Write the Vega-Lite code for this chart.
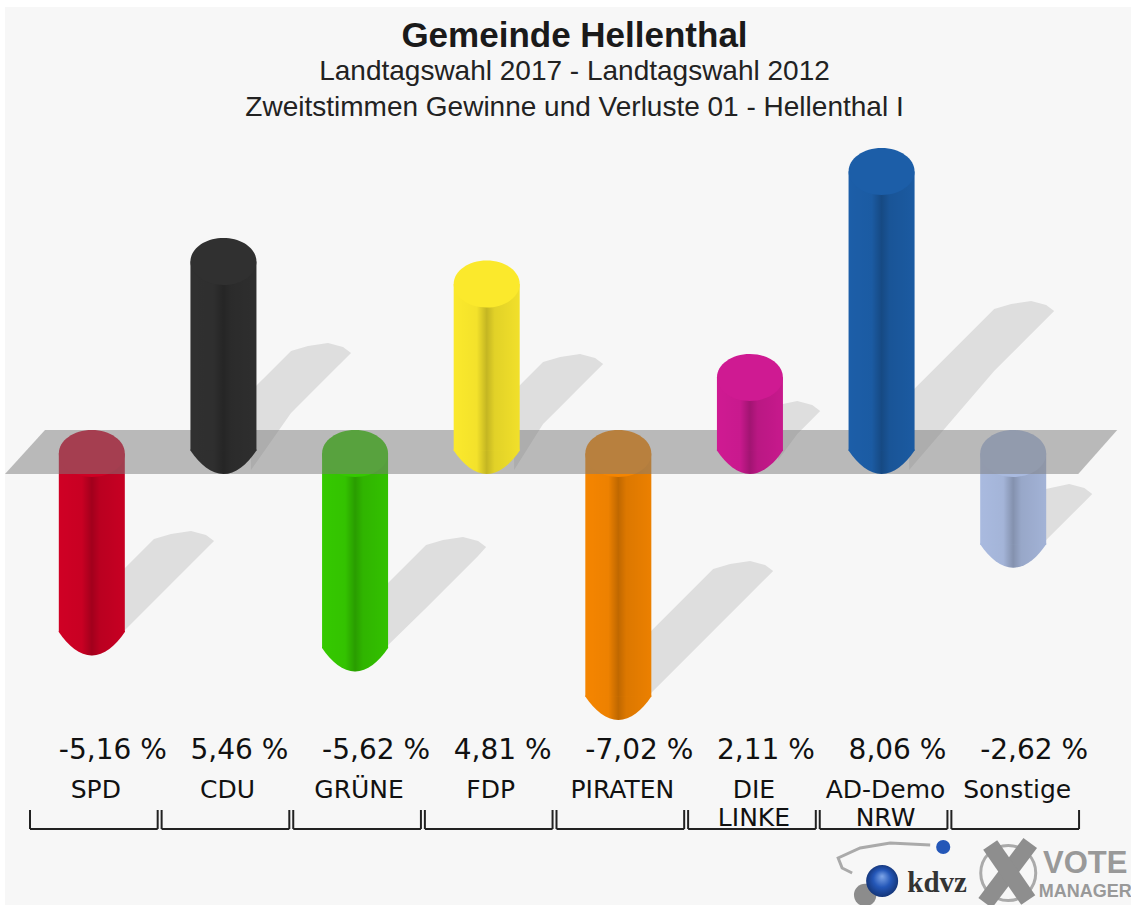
{"$schema":"https://vega.github.io/schema/vega-lite/v6.json","width":1053,"height":700,"autosize":"none","padding":{"left":30,"top":130,"right":48,"bottom":75},"background":"white","config":{"view":{"stroke":null}},
"title":{"text":"Gemeinde Hellenthal","subtitle":["Landtagswahl 2017 - Landtagswahl 2012","Zweitstimmen Gewinne und Verluste 01 - Hellenthal I"],"anchor":"middle","dx":18,"offset":-115,"font":"Liberation Sans","fontSize":35,"fontWeight":"bold","color":"#1a1a1a","subtitleFont":"Liberation Sans","subtitleFontSize":28,"subtitleColor":"#222222","subtitleLineHeight":36,"subtitlePadding":4},
"datasets":{"parties":[
{"party":"SPD","value":-5.16,"label":"-5,16 %","name":"SPD","c":0.5,"start":0.0,"end":0.97},
{"party":"CDU","value":5.46,"label":"5,46 %","name":"CDU","c":1.5,"start":1.0,"end":1.97},
{"party":"GRÜNE","value":-5.62,"label":"-5,62 %","name":"GRÜNE","c":2.5,"start":2.0,"end":2.97},
{"party":"FDP","value":4.81,"label":"4,81 %","name":"FDP","c":3.5,"start":3.0,"end":3.97},
{"party":"PIRATEN","value":-7.02,"label":"-7,02 %","name":"PIRATEN","c":4.5,"start":4.0,"end":4.97},
{"party":"DIE LINKE","value":2.11,"label":"2,11 %","name":"DIE\nLINKE","c":5.5,"start":5.0,"end":5.97},
{"party":"AD-Demo NRW","value":8.06,"label":"8,06 %","name":"AD-Demo\nNRW","c":6.5,"start":6.0,"end":6.97},
{"party":"Sonstige","value":-2.62,"label":"-2,62 %","name":"Sonstige","c":7.5,"start":7.0,"end":7.97}],
"shadows":[
{"party":"SPD","u":0.676,"a":-3.526,"b":-5.318},{"party":"SPD","u":0.942,"a":-2.514,"b":-4.306},{"party":"SPD","u":1.071,"a":-2.370,"b":-3.815},{"party":"SPD","u":1.223,"a":-2.283,"b":-3.237},{"party":"SPD","u":1.337,"a":-2.399,"b":-2.803},{"party":"SPD","u":1.398,"a":-2.572,"b":-2.572},
{"party":"CDU","u":1.679,"a":1.763,"b":-0.520},{"party":"CDU","u":1.983,"a":2.919,"b":1.127},{"party":"CDU","u":2.112,"a":3.063,"b":1.618},{"party":"CDU","u":2.264,"a":3.150,"b":2.196},{"party":"CDU","u":2.378,"a":3.035,"b":2.630},{"party":"CDU","u":2.439,"a":2.861,"b":2.861},
{"party":"GRÜNE","u":2.682,"a":-3.930,"b":-5.722},{"party":"GRÜNE","u":3.009,"a":-2.688,"b":-4.508},{"party":"GRÜNE","u":3.138,"a":-2.543,"b":-4.017},{"party":"GRÜNE","u":3.290,"a":-2.457,"b":-3.439},{"party":"GRÜNE","u":3.404,"a":-2.572,"b":-3.006},{"party":"GRÜNE","u":3.465,"a":-2.746,"b":-2.746},
{"party":"FDP","u":3.678,"a":1.763,"b":-0.520},{"party":"FDP","u":3.898,"a":2.601,"b":0.809},{"party":"FDP","u":4.028,"a":2.746,"b":1.301},{"party":"FDP","u":4.179,"a":2.832,"b":1.879},{"party":"FDP","u":4.293,"a":2.717,"b":2.312},{"party":"FDP","u":4.354,"a":2.543,"b":2.543},
{"party":"PIRATEN","u":4.681,"a":-5.318,"b":-7.109},{"party":"PIRATEN","u":5.190,"a":-3.381,"b":-5.173},{"party":"PIRATEN","u":5.319,"a":-3.237,"b":-4.682},{"party":"PIRATEN","u":5.471,"a":-3.150,"b":-4.104},{"party":"PIRATEN","u":5.585,"a":-3.266,"b":-3.670},{"party":"PIRATEN","u":5.646,"a":-3.439,"b":-3.439},
{"party":"DIE LINKE","u":5.684,"a":1.358,"b":-0.231},{"party":"DIE LINKE","u":5.829,"a":1.474,"b":0.520},{"party":"DIE LINKE","u":5.943,"a":1.358,"b":0.954},{"party":"DIE LINKE","u":6.003,"a":1.185,"b":1.185},
{"party":"AD-Demo NRW","u":6.679,"a":1.676,"b":-0.520},{"party":"AD-Demo NRW","u":7.325,"a":4.133,"b":2.341},{"party":"AD-Demo NRW","u":7.454,"a":4.277,"b":2.832},{"party":"AD-Demo NRW","u":7.606,"a":4.364,"b":3.410},{"party":"AD-Demo NRW","u":7.720,"a":4.249,"b":3.844},{"party":"AD-Demo NRW","u":7.781,"a":4.075,"b":4.075},
{"party":"Sonstige","u":7.682,"a":-1.098,"b":-2.688},{"party":"Sonstige","u":7.895,"a":-0.925,"b":-1.879},{"party":"Sonstige","u":8.010,"a":-1.040,"b":-1.445},{"party":"Sonstige","u":8.070,"a":-1.214,"b":-1.214}]},
"layer":[
{"data":{"values":[{"u":-0.19,"a":12.86,"b":-13.09},{"u":8.38,"a":12.86,"b":-13.09}]},"mark":{"type":"area","color":"#f7f7f7"},"encoding":{"x":{"field":"u","type":"quantitative","scale":{"domain":[0,8],"nice":false,"zero":false,"padding":0},"axis":null},"y":{"field":"a","type":"quantitative","scale":{"domain":[-10.925,9.306],"nice":false,"zero":false},"axis":null},"y2":{"field":"b"}}},
{"data":{"name":"shadows"},"mark":{"type":"area","color":"#dedede"},"encoding":{"x":{"field":"u","type":"quantitative"},"y":{"field":"a","type":"quantitative"},"y2":{"field":"b"},"detail":{"field":"party"}}},

{"data":{"name":"parties"},"transform":[{"filter":"datum.value<0"}],"layer":[
{"mark":{"type":"point","filled":true,"opacity":1,"size":4356,"strokeWidth":0,"xOffset":-4,"yOffset":1.5,"shape":"M-1,-0.03 L1,-0.03 L1,0 C0.72,0.42 0.36,0.712 0,0.712 C-0.36,0.712 -0.72,0.42 -1,0 Z"},"encoding":{"x":{"field":"c","type":"quantitative"},"y":{"field":"value","type":"quantitative"},"color":{"field":"party","type":"nominal","legend":null,"scale":{"domain":["SPD","CDU","GRÜNE","FDP","PIRATEN","DIE LINKE","AD-Demo NRW","Sonstige"],"range":["#cf0024","#303030","#35c900","#fbe92c","#f58500","#cf1a92","#1c5ea8","#a9badf"]}}}},
{"mark":{"type":"point","filled":true,"opacity":1,"size":4356,"strokeWidth":0,"xOffset":-4,"yOffset":1.5,"shape":"M-1,-0.03 L1,-0.03 L1,0 C0.72,0.42 0.36,0.712 0,0.712 C-0.36,0.712 -0.72,0.42 -1,0 Z","fill":{"gradient":"linear","x1":0,"x2":1,"y1":0,"y2":0,"stops":[{"offset":0,"color":"rgba(0,0,0,0)"},{"offset":0.35,"color":"rgba(0,0,0,0.03)"},{"offset":0.5,"color":"rgba(0,0,0,0.22)"},{"offset":0.62,"color":"rgba(0,0,0,0.1)"},{"offset":1,"color":"rgba(0,0,0,0.04)"}]}},"encoding":{"x":{"field":"c","type":"quantitative"},"y":{"field":"value","type":"quantitative"}}},
{"mark":{"type":"bar","width":66,"xOffset":-4,"yOffset":1.5,"y2Offset":1.5},"encoding":{"x":{"field":"c","type":"quantitative"},"y":{"field":"value","type":"quantitative"},"y2":{"datum":0},"color":{"field":"party","type":"nominal","legend":null}}},
{"mark":{"type":"bar","width":66,"xOffset":-4,"yOffset":1.5,"y2Offset":1.5,"fill":{"gradient":"linear","x1":0,"x2":1,"y1":0,"y2":0,"stops":[{"offset":0,"color":"rgba(0,0,0,0)"},{"offset":0.35,"color":"rgba(0,0,0,0.03)"},{"offset":0.5,"color":"rgba(0,0,0,0.22)"},{"offset":0.62,"color":"rgba(0,0,0,0.1)"},{"offset":1,"color":"rgba(0,0,0,0.04)"}]}},"encoding":{"x":{"field":"c","type":"quantitative"},"y":{"field":"value","type":"quantitative"},"y2":{"datum":0}}},
{"mark":{"type":"point","filled":true,"opacity":1,"size":4356,"strokeWidth":0,"xOffset":-4,"yOffset":1.5,"shape":"M-1,0 A1,0.712 0 1 1 1,0 A1,0.712 0 1 1 -1,0 Z"},"encoding":{"x":{"field":"c","type":"quantitative"},"y":{"datum":0},"color":{"field":"party","type":"nominal","legend":null}}}
]},

{"data":{"values":[{"u":-0.19,"a":-0.636,"b":-0.636},{"u":0.114,"a":0.636,"b":-0.636},{"u":7.964,"a":0.636,"b":-0.636},{"u":8.26,"a":0.636,"b":0.636}]},"mark":{"type":"area","color":"#7c7c7c","opacity":0.5},"encoding":{"x":{"field":"u","type":"quantitative"},"y":{"field":"a","type":"quantitative"},"y2":{"field":"b"}}},

{"data":{"name":"parties"},"transform":[{"filter":"datum.value>0"}],"layer":[
{"mark":{"type":"point","filled":true,"opacity":1,"size":4356,"strokeWidth":0,"xOffset":-4,"yOffset":-1.5,"shape":"M-1,-0.03 L1,-0.03 L1,0 C0.72,0.42 0.36,0.712 0,0.712 C-0.36,0.712 -0.72,0.42 -1,0 Z"},"encoding":{"x":{"field":"c","type":"quantitative"},"y":{"datum":0},"color":{"field":"party","type":"nominal","legend":null}}},
{"mark":{"type":"point","filled":true,"opacity":1,"size":4356,"strokeWidth":0,"xOffset":-4,"yOffset":-1.5,"shape":"M-1,-0.03 L1,-0.03 L1,0 C0.72,0.42 0.36,0.712 0,0.712 C-0.36,0.712 -0.72,0.42 -1,0 Z","fill":{"gradient":"linear","x1":0,"x2":1,"y1":0,"y2":0,"stops":[{"offset":0,"color":"rgba(0,0,0,0)"},{"offset":0.35,"color":"rgba(0,0,0,0.03)"},{"offset":0.5,"color":"rgba(0,0,0,0.22)"},{"offset":0.62,"color":"rgba(0,0,0,0.1)"},{"offset":1,"color":"rgba(0,0,0,0.04)"}]}},"encoding":{"x":{"field":"c","type":"quantitative"},"y":{"datum":0}}},
{"mark":{"type":"bar","width":66,"xOffset":-4,"yOffset":-1.5,"y2Offset":-1.5},"encoding":{"x":{"field":"c","type":"quantitative"},"y":{"field":"value","type":"quantitative"},"y2":{"datum":0},"color":{"field":"party","type":"nominal","legend":null}}},
{"mark":{"type":"bar","width":66,"xOffset":-4,"yOffset":-1.5,"y2Offset":-1.5,"fill":{"gradient":"linear","x1":0,"x2":1,"y1":0,"y2":0,"stops":[{"offset":0,"color":"rgba(0,0,0,0)"},{"offset":0.35,"color":"rgba(0,0,0,0.03)"},{"offset":0.5,"color":"rgba(0,0,0,0.22)"},{"offset":0.62,"color":"rgba(0,0,0,0.1)"},{"offset":1,"color":"rgba(0,0,0,0.04)"}]}},"encoding":{"x":{"field":"c","type":"quantitative"},"y":{"field":"value","type":"quantitative"},"y2":{"datum":0}}},
{"mark":{"type":"point","filled":true,"opacity":1,"size":4356,"strokeWidth":0,"xOffset":-4,"yOffset":-1.5,"shape":"M-1,0 A1,0.712 0 1 1 1,0 A1,0.712 0 1 1 -1,0 Z"},"encoding":{"x":{"field":"c","type":"quantitative"},"y":{"field":"value","type":"quantitative"},"color":{"field":"party","type":"nominal","legend":null}}}
]},

{"data":{"name":"parties"},"mark":{"type":"text","align":"left","baseline":"alphabetic","dx":-37,"font":"DejaVu Sans","fontSize":28,"color":"#111111"},"encoding":{"x":{"field":"c","type":"quantitative"},"y":{"datum":-8.873},"text":{"field":"label"}}},
{"data":{"name":"parties"},"mark":{"type":"text","align":"center","baseline":"alphabetic","lineBreak":"\n","lineHeight":28,"font":"DejaVu Sans","fontSize":25,"color":"#111111"},"encoding":{"x":{"field":"c","type":"quantitative"},"y":{"datum":-10.0},"text":{"field":"name"}}},
{"data":{"name":"parties"},"mark":{"type":"rule","color":"#222222","strokeWidth":2},"encoding":{"x":{"field":"start","type":"quantitative"},"x2":{"field":"end"},"y":{"datum":-10.896}}},
{"data":{"name":"parties"},"mark":{"type":"rule","color":"#222222","strokeWidth":2},"encoding":{"x":{"field":"start","type":"quantitative"},"y":{"datum":-10.347},"y2":{"datum":-10.896}}},
{"data":{"name":"parties"},"mark":{"type":"rule","color":"#222222","strokeWidth":2},"encoding":{"x":{"field":"end","type":"quantitative"},"y":{"datum":-10.347},"y2":{"datum":-10.896}}},

{"data":{"values":[{"o":1,"u":6.839,"a":-11.358},{"o":2,"u":6.535,"a":-11.301},{"o":3,"u":6.307,"a":-11.445},{"o":4,"u":6.140,"a":-11.734},{"o":5,"u":6.170,"a":-12.023},{"o":6,"u":6.246,"a":-12.168}]},"mark":{"type":"line","color":"#aaaaaa","strokeWidth":3},"encoding":{"x":{"field":"u","type":"quantitative"},"y":{"field":"a","type":"quantitative"},"order":{"field":"o","type":"quantitative"}}},
{"data":{"values":[{"u":7.432,"a":-12.168}]},"mark":{"type":"point","filled":false,"opacity":1,"size":3025,"shape":"circle","color":"#aaaaaa","strokeWidth":3},"encoding":{"x":{"field":"u","type":"quantitative"},"y":{"field":"a","type":"quantitative"}}},
{"data":{"values":[{"u":7.599,"a":-11.301,"u2":7.257,"b":-13.035},{"u":7.295,"a":-11.358,"u2":7.584,"b":-12.948}]},"mark":{"type":"rule","color":"#8e8e8e","strokeWidth":17},"encoding":{"x":{"field":"u","type":"quantitative"},"x2":{"field":"u2"},"y":{"field":"a","type":"quantitative"},"y2":{"field":"b"}}},
{"data":{"values":[{"u":6.345,"a":-12.803}]},"mark":{"type":"point","filled":true,"shape":"circle","size":500,"color":"#444444","opacity":0.6,"strokeWidth":0},"encoding":{"x":{"field":"u","type":"quantitative"},"y":{"field":"a","type":"quantitative"}}},
{"data":{"values":[{"u":6.474,"a":-12.4}]},"mark":{"type":"point","filled":true,"shape":"circle","size":1024,"opacity":1,"strokeWidth":0,"fill":{"gradient":"radial","x1":0.5,"y1":0.35,"r1":0,"x2":0.5,"y2":0.5,"r2":0.55,"stops":[{"offset":0,"color":"#7fa6e8"},{"offset":0.5,"color":"#2457b8"},{"offset":1,"color":"#12306e"}]}},"encoding":{"x":{"field":"u","type":"quantitative"},"y":{"field":"a","type":"quantitative"}}},
{"data":{"values":[{"u":6.938,"a":-11.416}]},"mark":{"type":"point","filled":true,"shape":"circle","size":200,"opacity":1,"strokeWidth":0,"color":"#2457b8"},"encoding":{"x":{"field":"u","type":"quantitative"},"y":{"field":"a","type":"quantitative"}}},
{"data":{"values":[{"u":6.892,"a":-12.457,"t":"kdvz"}]},"mark":{"type":"text","font":"Liberation Serif","fontWeight":"bold","fontSize":29,"color":"#333333","baseline":"middle"},"encoding":{"x":{"field":"u","type":"quantitative"},"y":{"field":"a","type":"quantitative"},"text":{"field":"t"}}},
{"data":{"values":[{"u":8.017,"a":-11.9,"t":"VOTE"}]},"mark":{"type":"text","font":"Liberation Sans","fontWeight":"bold","fontSize":31,"color":"#999999","baseline":"middle"},"encoding":{"x":{"field":"u","type":"quantitative"},"y":{"field":"a","type":"quantitative"},"text":{"field":"t"}}},
{"data":{"values":[{"u":8.017,"a":-12.72,"t":"MANAGER"}]},"mark":{"type":"text","font":"Liberation Sans","fontWeight":"bold","fontSize":18,"color":"#999999","baseline":"middle"},"encoding":{"x":{"field":"u","type":"quantitative"},"y":{"field":"a","type":"quantitative"},"text":{"field":"t"}}}
]}
